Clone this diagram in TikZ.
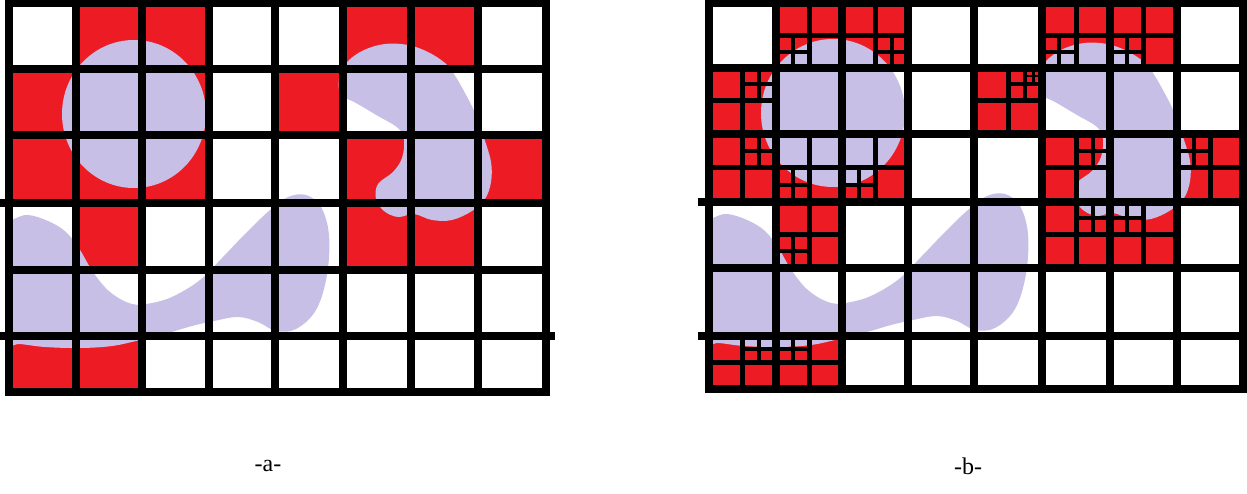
\documentclass[tikz,border=0pt]{standalone}
\usepackage{fontspec}
\setmainfont{Liberation Serif}
\definecolor{cellred}{RGB}{237,28,36}
\definecolor{blobfill}{RGB}{200,191,231}
\tikzset{
  gridline/.style={line width=8pt, black, line cap=rect},
  quadline/.style={line width=5pt, black},
  subline/.style={line width=4pt, black},
  tinyline/.style={line width=2.5pt, black},
  redcell/.style={fill=cellred},
  blob/.style={fill=blobfill},
  lbl/.style={font=\fontsize{24}{28}\selectfont, inner sep=0pt, text=black}
}
\newcommand{\blobshapes}{%
  \fill[blob] (134,114) ellipse [x radius=72pt, y radius=74pt];
  \fill[blob] plot[smooth cycle, tension=0.6] coordinates {(339,90) (340,74) (348,61) (364,50) (385,44) (408,45) (428,52) (445,63) (454,74) (465,93) (475,113) (484,138) (491,162) (491,182) (485,199) (472,211) (452,220) (432,220) (414,214) (398,217) (384,211) (376,199) (378,184) (393,172) (402,158) (404,140) (398,128) (378,116) (356,103) (344,97)};
  \fill[blob] plot[smooth cycle, tension=0.6] coordinates {(-10,285) (0,226) (14,219) (28,215) (48,221) (66,232) (80,250) (93,272) (110,292) (132,304) (152,303) (174,296) (200,280) (222,258) (246,233) (270,210) (288,197) (306,195) (321,207) (329,235) (327,275) (316,310) (296,329) (276,331) (258,322) (238,317) (214,321) (192,326) (168,333) (140,340) (112,346) (80,348) (45,347) (20,344) (0,343)};
}
\begin{document}
\begin{tikzpicture}[x=1pt,y=-1pt]
\useasboundingbox (0,0) rectangle (1247,494);
\fill[white] (0,0) rectangle (1247,494);
\def\AX{{9,76,142,209,275,343,411,478,546}}
\def\AY{{3,69,135,203,270,336,392}}
\def\BX{{709,776,842,908,974,1042,1110,1177,1243}}
\def\BY{{3,68,134,202,268,336,389}}
% ---------- (a) red cells
\foreach \c/\r in {1/0,2/0,5/0,6/0,0/1,1/1,2/1,4/1,0/2,1/2,2/2,5/2,6/2,7/2,1/3,5/3,6/3,0/5,1/5}{
  \pgfmathsetmacro{\xa}{\AX[\c]}
  \pgfmathsetmacro{\xb}{\AX[\c+1]}
  \pgfmathsetmacro{\ya}{\AY[\r]}
  \pgfmathsetmacro{\yb}{\AY[\r+1]}
  \fill[redcell] (\xa,\ya) rectangle (\xb,\yb);
}
\begin{scope}
  \clip (9,3) rectangle (546,392);
  \blobshapes
\end{scope}
% ---------- (b) red cells
\foreach \c/\r in {1/0,2/0,5/0,6/0,0/1,4/1,0/2,1/2,2/2,5/2,7/2,1/3,5/3,6/3,0/5,1/5}{
  \pgfmathsetmacro{\xa}{\BX[\c]}
  \pgfmathsetmacro{\xb}{\BX[\c+1]}
  \pgfmathsetmacro{\ya}{\BY[\r]}
  \pgfmathsetmacro{\yb}{\BY[\r+1]}
  \fill[redcell] (\xa,\ya) rectangle (\xb,\yb);
}
\begin{scope}
  \clip (709,3) rectangle (1243,389);
  \begin{scope}[shift={(699,-1)}]
    \blobshapes
  \end{scope}
\end{scope}
% ---------- (b) subdivisions
\foreach \c/\r/\q in {1/0/2,2/0/3,5/0/2,6/0/2,0/1/1,4/1/1,0/2/1,1/2/2,2/2/2,5/2/1,7/2/0,1/3/2,5/3/1,6/3/0,0/5/1,1/5/0}{
  \pgfmathsetmacro{\xa}{\BX[\c]}
  \pgfmathsetmacro{\xb}{\BX[\c+1]}
  \pgfmathsetmacro{\ya}{\BY[\r]}
  \pgfmathsetmacro{\yb}{\BY[\r+1]}
  \pgfmathsetmacro{\xm}{(\xa+\xb)/2}
  \pgfmathsetmacro{\ym}{(\ya+\yb)/2}
  \draw[quadline] (\xm,\ya) -- (\xm,\yb) (\xa,\ym) -- (\xb,\ym);
  \pgfmathsetmacro{\qx}{\xa + mod(\q,2)*(\xm-\xa)}
  \pgfmathsetmacro{\qy}{\ya + int(\q/2)*(\ym-\ya)}
  \pgfmathsetmacro{\qxe}{\qx + (\xm-\xa)}
  \pgfmathsetmacro{\qye}{\qy + (\ym-\ya)}
  \pgfmathsetmacro{\qxm}{(\qx+\qxe)/2}
  \pgfmathsetmacro{\qym}{(\qy+\qye)/2}
  \draw[subline] (\qxm,\qy) -- (\qxm,\qye) (\qx,\qym) -- (\qxe,\qym);
}
\draw[tinyline] (1033.5,68) -- (1033.5,84.5) (1025,76.25) -- (1042,76.25);
% ---------- grids
\foreach \x in {9,76,142,209,275,343,411,478,546} \draw[gridline] (\x,3) -- (\x,392);
\foreach \y in {3,69,135,270,392} \draw[gridline] (9,\y) -- (546,\y);
\draw[gridline] (0,203) -- (546,203);
\draw[gridline] (3,336) -- (551,336);
\foreach \x in {709,776,842,908,974,1042,1110,1177,1243} \draw[gridline] (\x,3) -- (\x,389);
\foreach \y in {3,68,134,268,389} \draw[gridline] (709,\y) -- (1243,\y);
\draw[gridline] (702,202) -- (1243,202);
\draw[gridline] (702,336) -- (1243,336);
% ---------- labels
\node[lbl] (la) at (268,466) {-a-};
\node[lbl] (lb) at (968,466) {-b-};
\end{tikzpicture}
\end{document}
